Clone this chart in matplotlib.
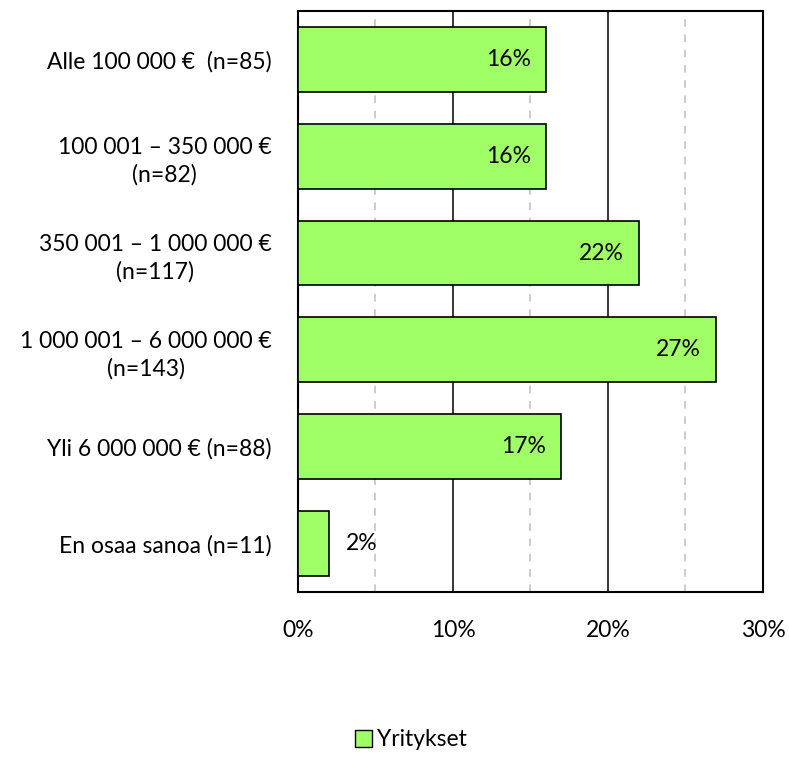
import numpy as np
import matplotlib.pyplot as plt
from matplotlib.ticker import MultipleLocator, PercentFormatter
from matplotlib.patches import Patch

plt.rcParams['font.family'] = ['Lato', 'DejaVu Sans']

# Data
categories = ['Alle 100 000 €  (n=85)',
              '100 001 – 350 000 €\n(n=82)',
              '350 001 – 1 000 000 €\n(n=117)',
              '1 000 001 – 6 000 000 €\n(n=143)',
              'Yli 6 000 000 € (n=88)',
              'En osaa sanoa (n=11)']
values = [16, 16, 22, 27, 17, 2]
series_name = 'Yritykset'

BAR_COLOR = '#A0FF66'
FS = 16.5

fig = plt.figure(figsize=(7.89, 7.82), dpi=100)
ax = fig.add_axes([0.3777, 0.243, 0.5893, 0.743])

y = np.arange(len(categories))
bars = ax.barh(y, values, height=0.67, color=BAR_COLOR, edgecolor='black',
               linewidth=1.2, zorder=3)

ax.set_xlim(0, 30)
ax.set_ylim(len(categories) - 0.5, -0.5)
ax.set_yticks(y)
ax.set_yticklabels(categories, multialignment='center', linespacing=1.35)
ax.xaxis.set_major_locator(MultipleLocator(10))
ax.xaxis.set_minor_locator(MultipleLocator(5))
ax.xaxis.set_major_formatter(PercentFormatter(decimals=0))

ax.grid(True, which='major', axis='x', color='black', linewidth=1.1, zorder=1)
ax.grid(True, which='minor', axis='x', color='#BFBFBF', linestyle=(0, (5, 5)),
        linewidth=1.1, zorder=1)
ax.tick_params(axis='both', which='both', length=0, labelsize=FS)
ax.tick_params(axis='x', pad=20)
ax.tick_params(axis='y', pad=19)
for s in ax.spines.values():
    s.set_linewidth(1.5)
    s.set_color('black')

# Value labels
for b, v in zip(bars, values):
    yc = b.get_y() + b.get_height() / 2
    if v >= 5:
        ax.annotate(f'{v}%', (v, yc), xytext=(-11, 0), textcoords='offset points',
                    ha='right', va='center', fontsize=FS, zorder=4)
    else:
        ax.annotate(f'{v}%', (v, yc), xytext=(12, 0), textcoords='offset points',
                    ha='left', va='center', fontsize=FS, zorder=4)

fig.legend(handles=[Patch(facecolor=BAR_COLOR, edgecolor='black', label=series_name)],
           loc='center', bbox_to_anchor=(0.521, 0.054), frameon=False, fontsize=FS,
           handlelength=0.75, handleheight=0.75, handletextpad=0.2)

fig.savefig('out.png', dpi=100)
